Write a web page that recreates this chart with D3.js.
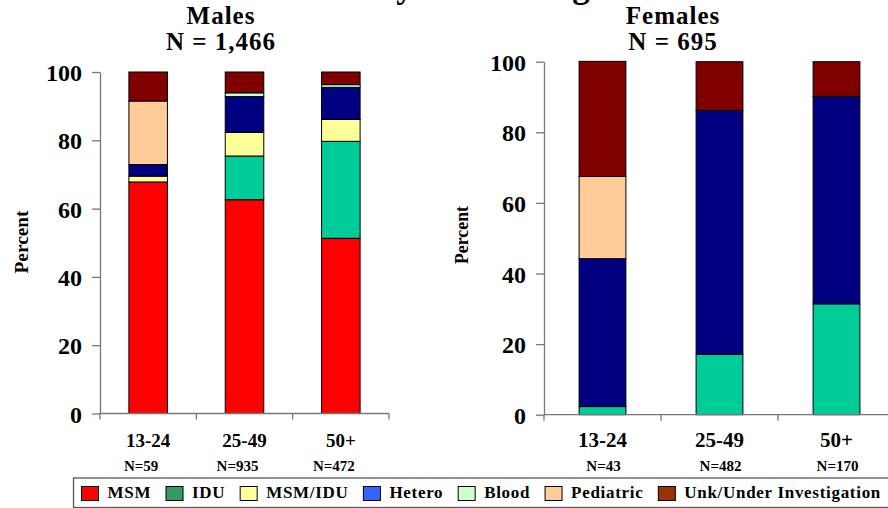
<!DOCTYPE html>
<html>
<head>
<meta charset="utf-8">
<script src="https://cdn.jsdelivr.net/npm/d3@7"></script>
<style>
  body { margin: 0; background: #fff; }
  svg text { font-family: "Liberation Serif", "Times New Roman", Times, serif !important; font-weight: bold; fill: #000; }
</style>
</head>
<body>
<script>
// ---- data (percent of cases) ----
var categories = ["MSM", "IDU", "MSM/IDU", "Hetero", "Blood", "Pediatric", "Unk/Under Investigation"];
var ageGroups = ["13-24", "25-49", "50+"];

var malesMSM       = [67.8, 62.6, 51.3];
var malesIDU       = [0, 12.8, 28.4];
var malesMSMIDU    = [1.7, 6.9, 6.4];
var malesHetero    = [3.4, 10.5, 9.4];
var malesBlood     = [0, 1.1, 0.8];
var malesPediatric = [18.6, 0, 0];
var malesUnk       = [8.5, 6.1, 3.7];
var malesN = ["N=59", "N=935", "N=472"];

var femalesMSM       = [0, 0, 0];
var femalesIDU       = [2.3, 17.1, 31.4];
var femalesMSMIDU    = [0, 0, 0];
var femalesHetero    = [41.9, 69.1, 58.8];
var femalesBlood     = [0, 0, 0];
var femalesPediatric = [23.3, 0, 0];
var femalesUnk       = [32.6, 13.8, 9.8];
var femalesN = ["N=43", "N=482", "N=170"];

var yTicks = [0, 20, 40, 60, 80, 100];

// bar fills and legend fills do not match in the original slide
var barColors    = ["#FF0000", "#00CC99", "#FFFF99", "#000080", "#CCFFCC", "#FFCC99", "#800000"];
var legendColors = ["#FF0000", "#339966", "#FFFF99", "#3366FF", "#CCFFCC", "#FFCC99", "#993300"];

var width = 888, height = 508;
var serif = "'Liberation Serif', 'Times New Roman', Times, serif";

var svg = d3.select("body").append("svg")
  .attr("width", width)
  .attr("height", height)
  .attr("font-family", serif)
  .attr("font-weight", "bold");

// main title, mostly cut off at the top of the picture
svg.append("text")
  .attr("x", 444).attr("y", -3)
  .attr("text-anchor", "middle")
  .style("font-size", "35px")
  .text("Cases by Sex and Age");

var barColor = d3.scaleOrdinal().domain(categories).range(barColors);

function drawPanel(p) {
  var rows = ageGroups.map(function(g, i) {
    var row = { age: g };
    categories.forEach(function(c, k) { row[c] = p.series[k][i]; });
    return row;
  });
  var stacked = d3.stack().keys(categories)(rows);

  var x = d3.scaleBand().domain(ageGroups)
    .range([p.left, p.right])
    .paddingInner(0.6).paddingOuter(0.3);
  var y = d3.scaleLinear().domain([0, 100]).range([p.bottom, p.top]);

  var g = svg.append("g");

  // titles
  g.append("text").attr("x", p.titleX).attr("y", 24)
    .attr("text-anchor", "middle")
    .style("font-size", "25px").style("letter-spacing", "1px")
    .text(p.title);
  g.append("text").attr("x", p.titleX).attr("y", 50)
    .attr("text-anchor", "middle")
    .style("font-size", "25px").style("letter-spacing", "1px")
    .text(p.total);

  // bars
  g.selectAll(".layer")
    .data(stacked)
    .enter().append("g")
      .attr("fill", function(d) { return barColor(d.key); })
    .selectAll("rect")
    .data(function(d) { return d.filter(function(s) { return s[1] - s[0] > 0; }); })
    .enter().append("rect")
      .attr("x", function(d) { return x(d.data.age); })
      .attr("y", function(d) { return y(d[1]); })
      .attr("width", x.bandwidth())
      .attr("height", function(d) { return y(d[0]) - y(d[1]); })
      .attr("stroke", "#000")
      .attr("stroke-width", 1);

  // y axis
  var yAxis = g.append("g")
    .attr("transform", "translate(" + p.left + ",0)")
    .call(d3.axisLeft(y).tickValues(yTicks).tickSize(8).tickSizeOuter(0).tickPadding(10));
  yAxis.attr("font-family", serif).attr("font-size", null);
  yAxis.select(".domain").attr("stroke", "#777").attr("stroke-width", 1.3);
  yAxis.selectAll(".tick line").attr("stroke", "#777").attr("stroke-width", 1.3);
  yAxis.selectAll(".tick text")
    .attr("fill", "#000")
    .style("font-size", "24px")
    .attr("dy", "0.36em");

  // x axis: baseline with ticks between the groups
  var xAxis = g.append("g");
  xAxis.append("line")
    .attr("x1", p.left).attr("x2", p.right)
    .attr("y1", y(0)).attr("y2", y(0))
    .attr("stroke", "#777").attr("stroke-width", 1.3);
  xAxis.selectAll(".xtick")
    .data(d3.range(ageGroups.length + 1))
    .enter().append("line")
      .attr("x1", function(i) { return x.range()[0] + i * x.step(); })
      .attr("x2", function(i) { return x.range()[0] + i * x.step(); })
      .attr("y1", y(0)).attr("y2", y(0) + 6)
      .attr("stroke", "#777").attr("stroke-width", 1.3);

  g.selectAll(".cat")
    .data(ageGroups)
    .enter().append("text")
      .attr("x", function(d) { return x(d) + x.bandwidth() / 2; })
      .attr("y", 447)
      .attr("text-anchor", "middle")
      .style("font-size", p.catFont)
      .text(function(d) { return d; });

  g.selectAll(".ncount")
    .data(p.counts)
    .enter().append("text")
      .attr("x", function(d, i) { return x(ageGroups[i]) + x.bandwidth() / 2 + p.countDx; })
      .attr("y", 471)
      .attr("text-anchor", "middle")
      .style("font-size", "15px")
      .text(function(d) { return d; });

  g.append("text")
    .attr("transform", "translate(" + p.labelX + "," + p.labelY + ") rotate(-90)")
    .attr("text-anchor", "middle")
    .attr("dy", "0.35em")
    .style("font-size", "18px")
    .attr("textLength", p.labelLen)
    .attr("lengthAdjust", "spacingAndGlyphs")
    .text("Percent");
}

drawPanel({
  series: [malesMSM, malesIDU, malesMSMIDU, malesHetero, malesBlood, malesPediatric, malesUnk],
  counts: malesN,
  title: "Males", total: "N = 1,466", titleX: 221,
  left: 100, right: 389, top: 72, bottom: 413.5,
  catFont: "19px", countDx: -7,
  labelX: 22, labelY: 242, labelLen: 63
});

drawPanel({
  series: [femalesMSM, femalesIDU, femalesMSMIDU, femalesHetero, femalesBlood, femalesPediatric, femalesUnk],
  counts: femalesN,
  title: "Females", total: "N = 695", titleX: 673,
  left: 544, right: 895, top: 61.7, bottom: 414.7,
  catFont: "21px", countDx: 1,
  labelX: 462, labelY: 235, labelLen: 58
});

// ---- legend ----
var legend = svg.append("g");
legend.append("rect")
  .attr("x", 73.5).attr("y", 478)
  .attr("width", 840).attr("height", 29.5)
  .attr("fill", "#fff")
  .attr("stroke", "#555").attr("stroke-width", 1.3);

var items = legend.selectAll(".item")
  .data(categories)
  .enter().append("g");
items.append("rect")
  .attr("width", 17).attr("height", 14)
  .attr("y", 486.5)
  .attr("fill", function(d, i) { return legendColors[i]; })
  .attr("stroke", "#000").attr("stroke-width", 1);
items.append("text")
  .attr("x", 26).attr("y", 497.7)
  .style("font-size", "17px")
  .style("letter-spacing", "0.7px")
  .text(function(d) { return d; });

// spread the items from the left edge to the right edge of the box
var widths = [];
items.selectAll("text").each(function() { widths.push(26 + this.getComputedTextLength()); });
var startX = 81.5, endX = 881;
var gap = (endX - startX - d3.sum(widths)) / (categories.length - 1);
var cursor = startX;
items.attr("transform", function(d, i) {
  var t = "translate(" + cursor + ",0)";
  cursor += widths[i] + gap;
  return t;
});
</script>
</body>
</html>
